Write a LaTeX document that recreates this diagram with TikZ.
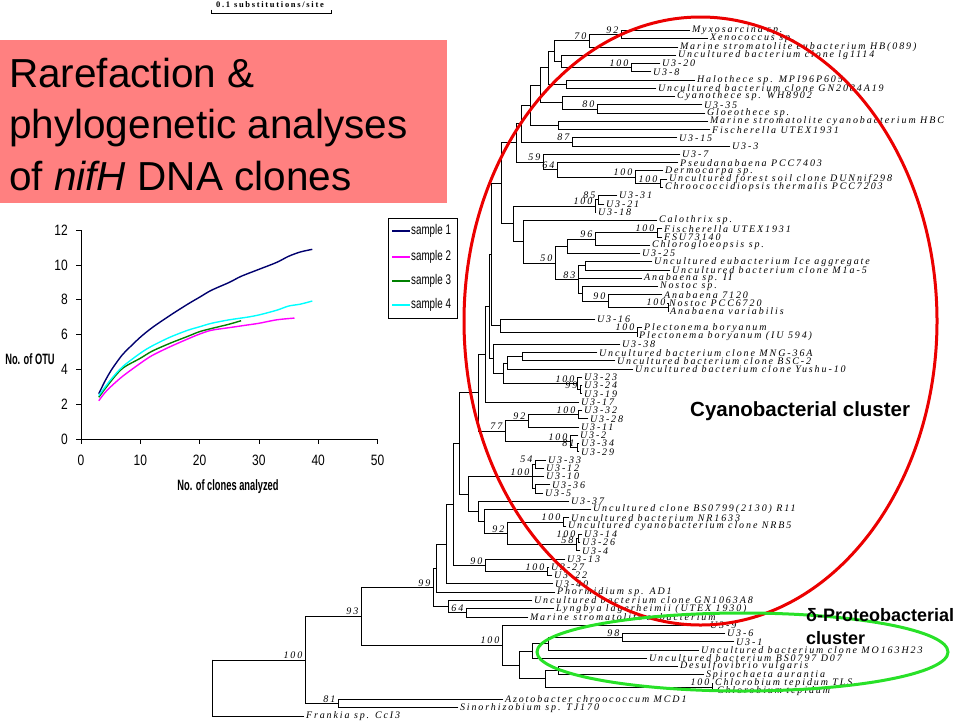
\documentclass[tikz,border=0pt]{standalone}
\usepackage{fontspec}
\setmainfont{Liberation Serif}
\newfontfamily\treefont[LetterSpace=19]{Liberation Serif}
\newfontfamily\scalefnt[LetterSpace=20]{Liberation Serif}
\newfontfamily\sansf{Liberation Sans}
\newfontfamily\narrowf[FakeStretch=0.8]{Liberation Sans}
\newfontfamily\legf[FakeStretch=0.7]{Liberation Sans}
\newfontfamily\narrowbf[FakeStretch=0.62]{Liberation Sans}
\usetikzlibrary{calc}

\definecolor{titlepink}{RGB}{255,128,128}
\definecolor{sone}{RGB}{0,0,110}
\definecolor{stwo}{RGB}{255,0,255}
\definecolor{sthree}{RGB}{0,128,0}
\definecolor{sfour}{RGB}{0,255,255}
\definecolor{ellred}{RGB}{235,0,0}
\definecolor{ellgreen}{RGB}{40,225,40}

\tikzset{
  br/.style={line width=0.9pt, line cap=rect},
  lab/.style={anchor=west, inner sep=1.8pt, font=\treefont\itshape\fontsize{10}{10}\selectfont},
  bsl/.style={anchor=south east, inner sep=0pt, xshift=-2.5pt, yshift=1pt, font=\treefont\itshape\fontsize{10}{10}\selectfont},
  chartaxis/.style={line width=0.8pt},
  ticklab/.style={font=\narrowf\fontsize{15}{15}\selectfont, inner sep=0pt},
  axtitle/.style={font=\narrowbf\bfseries\fontsize{15}{15}\selectfont, inner sep=0pt},
  legtext/.style={anchor=west, inner sep=1pt, font=\legf\fontsize{14}{14}\selectfont},
  curve/.style={line width=1.4pt},
  titletext/.style={anchor=base west, inner sep=0pt, font=\sansf\fontsize{40.5}{44}\selectfont},
  clusterlab/.style={anchor=west, inner sep=0pt, font=\sansf\bfseries\fontsize{20.5}{21}\selectfont},
  deltalab/.style={anchor=west, inner sep=0pt, font=\sansf\bfseries\fontsize{18}{18}\selectfont},
}

\newcommand\leaf[4]{%
  \coordinate (#1) at (#3,{30.5+(#2-1)*8.26});
  \node[lab] (t#1) at (#1) {#4};}
\newcommand\inode[5]{%
  \coordinate (#1) at ($(#2,0 |- #3)!.5!(#2,0 |- #4)$);
  \draw[br] (#1 |- #3) -- (#1 |- #4);
  \foreach \kid in {#5} {\draw[br] (#1 |- \kid) -- (\kid);}}
\newcommand\bsv[2]{\node[bsl] (b#1) at (#1) {#2};}

\begin{document}
\begin{tikzpicture}[x=1pt,y=-1pt]
\useasboundingbox (0,0) rectangle (960,720);

% ---------- title ----------
\fill[titlepink] (0,40) rectangle (447,203);
\node[titletext] (t1) at (9,87) {Rarefaction \&};
\node[titletext] (t2) at (9,138) {phylogenetic analyses};
\node[titletext] (t3) at (9,190) {of \textit{nifH} DNA clones};

% ---------- scale bar ----------
\node[inner sep=0pt, font=\scalefnt\bfseries\fontsize{8.5}{9}\selectfont] (sbt) at (270,4.5) {0.1 substitutions/site};
\draw[line width=0.9pt] (211,9.5) coordinate (sba) -- (211,13) -- (331,13) -- (331,9.5) coordinate (sbb);

% ---------- leaves ----------
\leaf{L1}{1}{690}{Myxosarcina sp.}
\leaf{L2}{2}{708}{Xenococcus sp.}
\leaf{L3}{3}{678}{Marine stromatolite eubacterium HB(089)}
\leaf{L4}{4}{676}{Uncultured bacterium clone lg1114}
\leaf{L5}{5}{660}{U3-20}
\leaf{L6}{6}{651}{U3-8}
\leaf{L7}{7}{695}{Halothece sp. MPI96P605}
\leaf{L8}{8}{656}{Uncultured bacterium clone GN2084A19}
\leaf{L9}{9}{675}{Cyanothece sp. WH8902}
\leaf{L10}{10}{702}{U3-35}
\leaf{L11}{11}{705}{Gloeothece sp.}
\leaf{L12}{12}{708}{Marine stromatolite cyanobacterium HBC}
\leaf{L13}{13}{710}{Fischerella UTEX1931}
\leaf{L14}{14}{677}{U3-15}
\leaf{L15}{15}{730}{U3-3}
\leaf{L16}{16}{680}{U3-7}
\leaf{L17}{17}{678}{Pseudanabaena PCC7403}
\leaf{L18}{18}{663}{Dermocarpa sp.}
\leaf{L19}{19}{667}{Uncultured forest soil clone DUNnif298}
\leaf{L20}{20}{663}{Chroococcidiopsis thermalis PCC7203}
\leaf{L21}{21}{617}{U3-31}
\leaf{L22}{22}{604}{U3-21}
\leaf{L23}{23}{596}{U3-18}
\leaf{L24}{24}{657}{Calothrix sp.}
\leaf{L25}{25}{662}{Fischerella UTEX1931}
\leaf{L26}{26}{662}{FSU73140}
\leaf{L27}{27}{650}{Chlorogloeopsis sp.}
\leaf{L28}{28}{640}{U3-25}
\leaf{L29}{29}{652}{Uncultured eubacterium Ice aggregate}
\leaf{L30}{30}{670}{Uncultured bacterium clone M1a-5}
\leaf{L31}{31}{642}{Anabaena sp. II}
\leaf{L32}{32}{658}{Nostoc sp.}
\leaf{L33}{33}{662}{Anabaena 7120}
\leaf{L34}{34}{667}{Nostoc PCC6720}
\leaf{L35}{35}{668}{Anabaena variabilis}
\leaf{L36}{36}{595}{U3-16}
\leaf{L37}{37}{642}{Plectonema boryanum}
\leaf{L38}{38}{637}{Plectonema boryanum (IU 594)}
\leaf{L39}{39}{620}{U3-38}
\leaf{L40}{40}{597}{Uncultured bacterium clone MNG-36A}
\leaf{L41}{41}{615}{Uncultured bacterium clone BSC-2}
\leaf{L42}{42}{633}{Uncultured bacterium clone Yushu-10}
\leaf{L43}{43}{582}{U3-23}
\leaf{L44}{44}{582}{U3-24}
\leaf{L45}{45}{582}{U3-19}
\leaf{L46}{46}{579}{U3-17}
\leaf{L47}{47}{582}{U3-32}
\leaf{L48}{48}{588}{U3-28}
\leaf{L49}{49}{579}{U3-11}
\leaf{L50}{50}{578}{U3-2}
\leaf{L51}{51}{579}{U3-34}
\leaf{L52}{52}{579}{U3-29}
\leaf{L53}{53}{546}{U3-33}
\leaf{L54}{54}{544}{U3-12}
\leaf{L55}{55}{544}{U3-10}
\leaf{L56}{56}{550}{U3-36}
\leaf{L57}{57}{543}{U3-5}
\leaf{L58}{58}{569}{U3-37}
\leaf{L59}{59}{591}{Uncultured clone BS0799(2130) R11}
\leaf{L60}{60}{569}{Uncultured bacterium NR1633}
\leaf{L61}{61}{566}{Uncultured cyanobacterium clone NRB5}
\leaf{L62}{62}{582}{U3-14}
\leaf{L63}{63}{580}{U3-26}
\leaf{L64}{64}{580}{U3-4}
\leaf{L65}{65}{565}{U3-13}
\leaf{L66}{66}{549}{U3-27}
\leaf{L67}{67}{552}{U3-22}
\leaf{L68}{68}{553}{U3-40}
\leaf{L69}{69}{555}{Phormidium sp. AD1}
\leaf{L70}{70}{532}{Uncultured bacterium clone GN1063A8}
\leaf{L71}{71}{554}{Lyngbya lagerheimii (UTEX 1930)}
\leaf{L72}{72}{528}{Marine stromatolite eubacterium}
\leaf{L73}{73}{708}{U3-9}
\leaf{L74}{74}{725}{U3-6}
\leaf{L75}{75}{734}{U3-1}
\leaf{L76}{76}{699}{Uncultured bacterium clone MO163H23}
\leaf{L77}{77}{647}{Uncultured bacterium BS0797 D07}
\leaf{L78}{78}{678}{Desulfovibrio vulgaris}
\leaf{L79}{79}{704}{Spirochaeta aurantia}
\leaf{L80}{80}{713}{Chlorobium tepidum TLS}
\leaf{L81}{81}{715}{Chlorobium tepidum}
\leaf{L82}{82}{503}{Azotobacter chroococcum MCD1}
\leaf{L83}{83}{458}{Sinorhizobium sp. TJ170}
\leaf{L84}{84}{304}{Frankia sp. CcI3}

% ---------- internal nodes ----------
\inode{n621}{621}{L1}{L2}{L1,L2}
\inode{n589}{589}{n621}{L3}{n621,L3}
\inode{n631}{631}{L5}{L6}{L5,L6}
\inode{n561}{561}{L4}{n631}{L4,n631}
\inode{n554}{554}{n589}{n561}{n589,n561}
\inode{n566}{566}{L7}{L8}{L7,L8}
\inode{n548}{548}{n554}{n566}{n554,n566}
\inode{n597}{597}{L10}{L11}{L10,L11}
\inode{n562}{562}{L9}{n597}{L9,n597}
\inode{n540}{540}{n548}{n562}{n548,n562}
\inode{n558}{558}{L12}{L13}{L12,L13}
\inode{n530}{530}{n540}{n558}{n540,n558}
\inode{n572}{572}{L14}{L15}{L14,L15}
\inode{n521}{521}{n530}{n572}{n530,n572}
\inode{n660}{660}{L19}{L20}{L19,L20}
\inode{n635}{635}{L18}{n660}{L18,n660}
\inode{n557}{557}{L17}{n635}{L17,n635}
\inode{n543}{543}{L16}{n557}{L16,n557}
\inode{n516}{516}{n521}{n543}{n521,n543}
\inode{n598}{598}{L21}{L22}{L21,L22}
\inode{n595}{595}{n598}{L23}{n598,L23}
\inode{n657}{657}{L25}{L26}{L25,L26}
\inode{n595b}{595}{n657}{L27}{n657,L27}
\inode{n567}{567}{n595b}{L28}{n595b,L28}
\inode{n585}{585}{L29}{L30}{L29,L30}
\inode{n668}{668}{L34}{L35}{L34,L35}
\inode{n608}{608}{L33}{n668}{L33,n668}
\inode{n582}{582}{L32}{n608}{L32,n608}
\inode{n578}{578}{n585}{n582}{n585,L31,n582}
\inode{n555}{555}{n567}{n578}{n567,n578}
\inode{n523}{523}{L24}{n555}{L24,n555}
\inode{n513}{513}{n595}{n523}{n595,n523}
\inode{n503}{501}{n516}{n513}{n516,n513}
\inode{n637}{637}{L37}{L38}{L37,L38}
\inode{n500}{500}{L36}{n637}{L36,n637}
\inode{n490}{491}{n503}{n500}{n503,n500}
\inode{n522}{522}{L40}{L41}{L40,L41}
\inode{n507}{507}{n522}{L42}{n522,L42}
\inode{n580}{580}{L44}{L45}{L44,L45}
\inode{n577}{577}{L43}{n580}{L43,n580}
\inode{n503b}{503}{n507}{n577}{n507,n577}
\inode{n493}{493}{L39}{n503b}{L39,n503b}
\inode{n487}{489}{n490}{n493}{n490,n493}
\inode{n484}{485}{n487}{L46}{n487,L46}
\inode{n578b}{578}{L47}{L48}{L47,L48}
\inode{n528}{528}{n578b}{L49}{n578b,L49}
\inode{n577b}{577}{L51}{L52}{L51,L52}
\inode{n570}{570}{L50}{n577b}{L50,n577b}
\inode{n505}{505}{n528}{n570}{n528,n570}
\inode{n478}{478}{n484}{n505}{n484,n505}
\inode{n535}{535}{L53}{L54}{L53,L54}
\inode{n535b}{535}{L56}{L57}{L56,L57}
\inode{n532}{532}{n535}{n535b}{n535,L55,n535b}
\inode{n563}{563}{L60}{L61}{L60,L61}
\inode{n578c}{578}{L62}{L63}{L62,L63}
\inode{n576}{576}{n578c}{L64}{n578c,L64}
\inode{n507b}{507}{n563}{n576}{n563,n576}
\inode{n484b}{484}{L59}{n507b}{L59,n507b}
\inode{n478b}{478}{L58}{n484b}{L58,n484b}
\inode{n468}{468}{n532}{n478b}{n532,n478b}
\inode{n459}{459}{n478}{n468}{n478,n468}
\inode{n547}{547}{L66}{L67}{L66,L67}
\inode{n485b}{485}{L65}{n547}{L65,n547}
\inode{n453}{453}{n459}{n485b}{n459,n485b}
\inode{n446}{446}{n453}{L68}{n453,L68}
\inode{n436}{436}{n446}{L69}{n446,L69}
\inode{n466}{466}{L71}{L72}{L71,L72}
\inode{n448}{448}{L70}{n466}{L70,n466}
\inode{n433}{433}{n436}{n448}{n436,n448}
\inode{n622}{622}{L74}{L75}{L74,L75}
\inode{n548b}{548}{n622}{L76}{n622,L76}
\inode{n532c}{532}{n548b}{L77}{n548b,L77}
\inode{n558b}{558}{L78}{L79}{L78,L79}
\inode{n712}{712}{L80}{L81}{L80,L81}
\inode{n545}{545}{n558b}{n712}{n558b,n712}
\inode{n519}{519}{n532c}{n545}{n532c,n545}
\inode{n502}{502}{L73}{n519}{L73,n519}
\inode{n361}{361}{n433}{n502}{n433,n502}
\inode{n338}{338}{L82}{L83}{L82,L83}
\inode{n305}{305}{n361}{n338}{n361,n338}
\inode{n212}{212}{n305}{L84}{n305,L84}

% ---------- bootstrap values ----------
\bsv{n621}{92}
\bsv{n589}{70}
\bsv{n631}{100}
\bsv{n597}{80}
\bsv{n572}{87}
\bsv{n543}{59}
\bsv{n557}{64}
\bsv{n635}{100}
\bsv{n660}{100}
\bsv{n598}{85}
\bsv{n595}{100}
\bsv{n657}{100}
\bsv{n595b}{96}
\bsv{n555}{50}
\bsv{n578}{83}
\bsv{n608}{90}
\bsv{n668}{100}
\bsv{n637}{100}
\bsv{n577}{100}
\bsv{n580}{99}
\bsv{n578b}{100}
\bsv{n528}{92}
\bsv{n505}{77}
\bsv{n570}{100}
\bsv{n577b}{81}
\bsv{n535}{54}
\bsv{n532}{100}
\bsv{n563}{100}
\bsv{n507b}{92}
\bsv{n578c}{100}
\bsv{n576}{58}
\bsv{n485b}{90}
\bsv{n547}{100}
\bsv{n433}{99}
\bsv{n466}{64}
\bsv{n361}{93}
\bsv{n502}{100}
\bsv{n622}{98}
\bsv{n712}{100}
\bsv{n305}{100}
\bsv{n338}{81}

% ---------- rarefaction chart ----------
\begin{scope}[shift={(81,439)},x=5.93pt,y=17.4pt]
  \draw[chartaxis] (0,12) coordinate (ytop) -- (0,0) coordinate (org) -- (50,0) coordinate (xend);
  \foreach \v in {0,2,...,12}{
    \draw[chartaxis] (0,\v) -- ++(-5pt,0pt);
    \node[ticklab, anchor=east] (yl\v) at ([xshift=-13pt]0,\v) {\v};}
  \foreach \v in {0,10,...,50}{
    \draw[chartaxis] (\v,0) -- ++(0pt,-5pt);
    \node[ticklab] (xl\v) at ([yshift=-21pt]\v,0) {\v};}
  \draw[sone, curve] plot[smooth] coordinates {(3,2.6) (4,3.3) (5,3.9) (6,4.4) (7,4.85) (8,5.2) (10,5.85) (12,6.4) (15,7.1) (18,7.75) (20,8.15) (22,8.55) (25,9.0) (27,9.35) (30,9.75) (33,10.15) (35,10.5) (37,10.75) (39,10.9)};
  \draw[stwo, curve] plot[smooth] coordinates {(3,2.2) (4,2.65) (5,3.0) (7,3.6) (10,4.35) (12,4.8) (15,5.3) (18,5.75) (20,6.03) (22,6.25) (25,6.4) (28,6.55) (30,6.65) (33,6.85) (36,6.95)};
  \draw[sthree, curve] plot[smooth] coordinates {(3,2.4) (5,3.3) (7,4.06) (10,4.64) (12,5.05) (15,5.5) (18,5.9) (20,6.17) (22,6.35) (25,6.6) (27,6.8)};
  \draw[sfour, curve] plot[smooth] coordinates {(3,2.5) (5,3.4) (7,4.15) (10,4.93) (12,5.35) (15,5.85) (18,6.25) (20,6.45) (22,6.65) (25,6.85) (28,7.0) (30,7.13) (33,7.4) (35,7.64) (37,7.75) (39,7.93)};
\end{scope}
\node[axtitle] (ytitle) at (30,359) {No. of OTU};
\node[axtitle] (xtitle) at (228,487) {No. of clones analyzed};

% legend
\draw[line width=0.8pt] (388,218) coordinate (lga) rectangle (457,318) coordinate (lgb);
\foreach \c/\i/\yy in {sone/1/231,stwo/2/257,sthree/3/281,sfour/4/305}{
  \draw[\c, line width=1.6pt] (392,\yy) -- (410,\yy);
  \node[legtext] (lg\i) at (410,\yy) {sample \i};}

% ---------- cluster ellipses and labels ----------
\draw[ellred, line width=3pt] (700.5,321) ellipse [x radius=236.5pt, y radius=304pt];
\draw[ellgreen, line width=3pt] (742.5,652) ellipse [x radius=205.5pt, y radius=39pt];
\node[clusterlab] (cyan) at (690,411) {Cyanobacterial cluster};
\node[deltalab] (delta1) at (806,615) {δ-Proteobacterial};
\node[deltalab] (delta2) at (806,638) {cluster};
\end{tikzpicture}
\end{document}
